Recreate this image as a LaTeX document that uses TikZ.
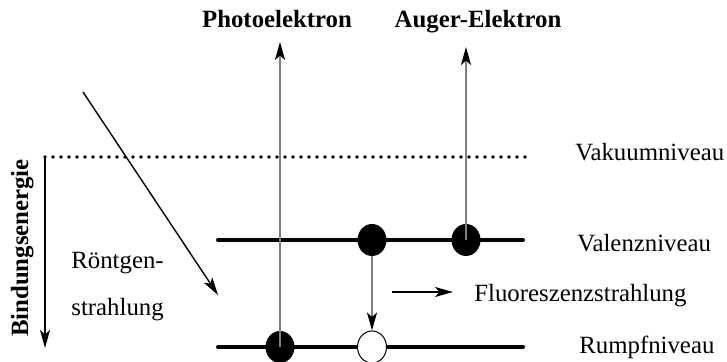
\documentclass[tikz,border=0pt]{standalone}
\usepackage{fontspec}
\setmainfont{Liberation Serif}
\usetikzlibrary{arrows.meta,shapes.geometric}
\begin{document}
\begin{tikzpicture}[x=0.5pt,y=-0.5pt,
  level/.style={line width=2pt,line cap=round},
  thinarrow/.style={line width=0.7pt,-{Stealth[length=9pt,width=5pt,inset=2.2pt]}},
  grayarrow/.style={draw=black!50,line width=0.75pt,-{Stealth[length=9pt,width=5pt,inset=2.2pt,color=black]}},
  electron/.style={ellipse,fill=black,minimum width=14.5pt,minimum height=16pt,inner sep=0pt},
  hole/.style={ellipse,draw=black,fill=white,line width=0.5pt,minimum width=14.5pt,minimum height=16pt,inner sep=0pt},
  lbl/.style={font=\fontsize{12.4}{14}\selectfont,inner sep=0pt},
  blbl/.style={font=\fontsize{12.4}{14}\selectfont\bfseries,inner sep=0pt}]
\useasboundingbox (0,0) rectangle (727,362);
% levels
\coordinate (vacL) at (45,157);
\coordinate (vacR) at (525,157);
\coordinate (valL) at (218,240);
\coordinate (valR) at (523,240);
\coordinate (corL) at (218,347);
\coordinate (corR) at (523,347);
\draw[line width=1.8pt,line cap=round,dash pattern=on 0pt off 4pt] (vacL) -- (vacR);
\draw[level] (valL) -- (valR);
\draw[level] (corL) -- (corR);
% binding energy axis
\coordinate (beEnd) at (45,348);
\draw[thinarrow] (vacL) -- (beEnd);
\node[blbl,rotate=90,anchor=base] (be) at (28,248) {Bindungsenergie};
% X-ray
\coordinate (xs) at (83,92);
\coordinate (xe) at (218,295);
\draw[thinarrow] (xs) -- (xe);
\node[lbl,anchor=base west] (r1) at (71,269) {Röntgen-};
\node[lbl,anchor=base west] (r2) at (71,316) {strahlung};
% electrons
\node[electron] (ev1) at (372,240) {};
\node[electron] (ev2) at (466,240) {};
\node[electron] (ec) at (280,347) {};
\node[hole] (hc) at (372,347) {};
% top labels
\node[blbl,anchor=base] (pe) at (277,28) {Photoelektron};
\node[blbl,anchor=base] (ae) at (478,28) {Auger-Elektron};
\coordinate (peTip) at (280,42);
\coordinate (aeTip) at (466,47);
\draw[grayarrow] (ec.center) -- (peTip);
\draw[grayarrow] (ev2.center) -- (aeTip);
\draw[grayarrow] (ev1.south) -- (hc.north);
% fluorescence
\coordinate (fs) at (392,292);
\coordinate (fe) at (453,292);
\draw[thinarrow] (fs) -- (fe);
\node[lbl,anchor=base west] (fl) at (474,302) {Fluoreszenzstrahlung};
% right labels
\node[lbl,anchor=base west] (vak) at (575,161) {Vakuumniveau};
\node[lbl,anchor=base west] (val) at (577,252) {Valenzniveau};
\node[lbl,anchor=base west] (rum) at (579,354) {Rumpfniveau};
\end{tikzpicture}
\end{document}
